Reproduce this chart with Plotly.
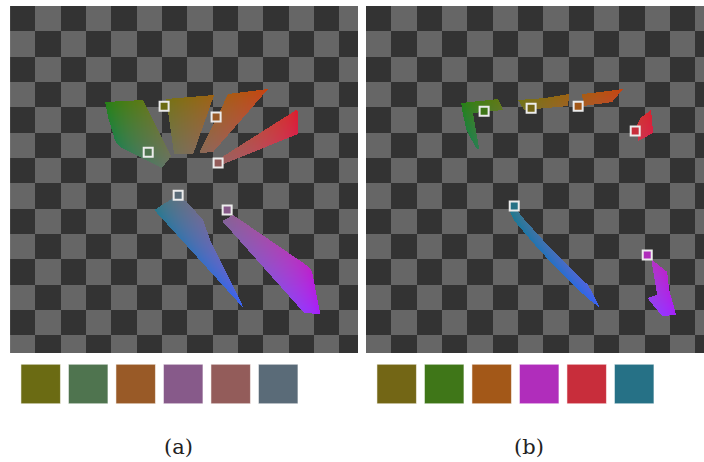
import numpy as np
import plotly.graph_objects as go

# Chroma plane (a*, b*) shown in each panel, and the fixed lightness used to colour regions
PLANE_A = (-103.5, 104.5)
PLANE_B = (-104.0, 103.5)
CHECK_CELL = 15.14
LIGHTNESS = 47.0
PX_PER_UNIT = 348 / (PLANE_A[1] - PLANE_A[0])
CHECK_DARK = (51, 51, 51)
CHECK_LIGHT = (102, 102, 102)

# ---------------- panel (a) ----------------
palette_a = ["#6b6b13", "#4f744f", "#995a27", "#875a8a", "#935c5a", "#5a6b78"]
points_a_x = [-11.4, -20.9, 19.7, 26.3, 20.9, -3.0]
points_a_y = [43.6, 16.1, 37.1, -18.5, 9.6, -9.6]

region_a_green = [(-46.6, 46.0), (-23.9, 47.2), (-7.2, 13.7), (-12.6, 6.6),
                  (-37.7, 19.1), (-40.6, 22.7), (-44.8, 36.5)]
region_a_olive = [(-10.2, 47.8), (18.5, 50.2), (6.0, 14.9), (-5.4, 14.9)]
region_a_orange = [(26.9, 50.8), (50.8, 53.8), (17.9, 16.1), (9.6, 15.5)]
region_a_red = [(22.7, 8.4), (23.3, 13.2), (67.5, 41.2), (68.7, 40.0), (68.7, 26.9)]
region_a_blue = [(-4.2, -10.2), (-17.3, -18.5), (36.5, -77.7), (16.1, -36.5),
                 (12.0, -24.5), (1.8, -13.2)]
region_a_purple = [(23.3, -25.1), (29.9, -21.5), (75.3, -52.6), (77.1, -55.6),
                   (81.9, -80.7), (72.3, -80.1)]
regions_a = [region_a_green, region_a_olive, region_a_orange,
             region_a_red, region_a_blue, region_a_purple]

# ---------------- panel (b) ----------------
palette_b = ["#736615", "#3f7618", "#a35818", "#b02dbb", "#c82d3b", "#267186"]
points_b_x = [-4.8, -32.9, 23.3, 64.6, 57.4, -14.9]
points_b_y = [42.4, 40.6, 43.6, -45.4, 28.7, -16.1]

region_b_green = [(-46.6, 45.4), (-24.5, 47.8), (-21.5, 41.2), (-29.3, 40.6),
                  (-39.5, 39.4), (-35.9, 17.9), (-37.7, 18.5), (-43.6, 29.3),
                  (-46.0, 41.2)]
region_b_olive = [(-12.6, 47.2), (3.6, 48.4), (10.2, 49.6), (17.9, 50.8),
                  (17.3, 43.6), (3.6, 42.4), (-9.0, 41.2)]
region_b_orange = [(25.7, 50.8), (36.5, 52.0), (50.2, 53.8), (43.6, 46.0), (26.3, 43.6)]
region_b_red = [(60.4, 36.5), (66.9, 41.2), (68.1, 27.5), (59.2, 22.7), (58.6, 32.3)]
region_b_blue = [(-16.7, -18.5), (-13.7, -17.9), (-9.6, -23.3), (6.0, -40.6),
                 (19.7, -54.4), (29.3, -63.4), (36.5, -77.1), (31.7, -73.5),
                 (22.1, -65.2), (12.6, -55.6), (0.6, -43.0), (-14.3, -25.7),
                 (-17.3, -20.3)]
region_b_magenta = [(67.5, -48.4), (76.5, -55.6), (77.7, -66.3), (81.9, -81.3),
                    (73.5, -81.9), (64.6, -71.1), (70.5, -69.3), (67.5, -51.4)]
regions_b = [region_b_green, region_b_olive, region_b_orange,
             region_b_red, region_b_blue, region_b_magenta]

captions = ["(a)", "(b)"]


def lab_to_srgb(L, a, b):
    fy = (L + 16.0) / 116.0
    fx = fy + a / 500.0
    fz = fy - b / 200.0

    def finv(t):
        return np.where(t > 6 / 29, t ** 3, 3 * (6 / 29) ** 2 * (t - 4 / 29))

    X = 0.95047 * finv(fx)
    Y = finv(fy)
    Z = 1.08883 * finv(fz)
    r = 3.2406 * X - 1.5372 * Y - 0.4986 * Z
    g = -0.9689 * X + 1.8758 * Y + 0.0415 * Z
    bl = 0.0557 * X - 0.2040 * Y + 1.0570 * Z

    def gamma(c):
        c = np.clip(c, 0.0, 1.0)
        return np.where(c <= 0.0031308, 12.92 * c, 1.055 * c ** (1 / 2.4) - 0.055)

    return np.stack([gamma(r), gamma(g), gamma(bl)], axis=-1)


def inside(px, py, poly):
    mask = np.zeros(px.shape, dtype=bool)
    n = len(poly)
    for k in range(n):
        x1, y1 = poly[k]
        x2, y2 = poly[(k + 1) % n]
        if y1 == y2:
            continue
        crosses = (y1 > py) != (y2 > py)
        xint = (x2 - x1) * (py - y1) / (y2 - y1) + x1
        mask ^= crosses & (px < xint)
    return mask


def region_image(regions):
    """Pixels of the chroma plane inside the regions, coloured by their (a*, b*) position."""
    step = 1.0 / PX_PER_UNIT
    w = int(round((PLANE_A[1] - PLANE_A[0]) / step))
    h = int(round((PLANE_B[1] - PLANE_B[0]) / step))
    ac = PLANE_A[0] + (np.arange(w) + 0.5) * step
    bc = PLANE_B[0] + (np.arange(h) + 0.5) * step
    A, B = np.meshgrid(ac, bc)
    mask = np.zeros(A.shape, dtype=bool)
    for poly in regions:
        mask |= inside(A, B, poly)
    rgb = lab_to_srgb(LIGHTNESS, A, B)
    img = np.zeros((h, w, 4), dtype=np.uint8)
    img[..., :3] = np.round(rgb * 255).astype(np.uint8)
    img[..., 3] = np.where(mask, 255, 0)
    return go.Image(z=img.tolist(), colormodel="rgba",
                    zmin=[0, 0, 0, 0], zmax=[255, 255, 255, 255],
                    x0=ac[0], dx=step, y0=bc[0], dy=step, hoverinfo="skip")


def checkerboard():
    """Transparency checkerboard, one image pixel per cell, anchored at the top-left corner."""
    ncol = int(np.ceil((PLANE_A[1] - PLANE_A[0]) / CHECK_CELL))
    nrow = int(np.ceil((PLANE_B[1] - PLANE_B[0]) / CHECK_CELL))
    rows = []
    for j in range(nrow):              # j counts from the bottom row upward
        r_top = nrow - 1 - j
        rows.append([list(CHECK_DARK if (r_top + c) % 2 == 0 else CHECK_LIGHT)
                     for c in range(ncol)])
    bottom = PLANE_B[1] - nrow * CHECK_CELL
    return go.Image(z=rows, colormodel="rgb",
                    x0=PLANE_A[0] + CHECK_CELL / 2, dx=CHECK_CELL,
                    y0=bottom + CHECK_CELL / 2, dy=CHECK_CELL, hoverinfo="skip")


fig = go.Figure()

panels = [
    (regions_a, points_a_x, points_a_y, palette_a, "x", "y", "x3", "y3"),
    (regions_b, points_b_x, points_b_y, palette_b, "x2", "y2", "x4", "y4"),
]
for regions, px_, py_, pal, xa, ya, xs, ys in panels:
    for tr in (checkerboard(), region_image(regions)):
        tr.update(xaxis=xa, yaxis=ya)
        fig.add_trace(tr)
    fig.add_trace(go.Scatter(
        x=px_, y=py_, mode="markers", xaxis=xa, yaxis=ya, hoverinfo="skip",
        marker=dict(symbol="square", size=9, color=pal,
                    line=dict(color="#ececec", width=2))))
    fig.add_trace(go.Scatter(
        x=list(range(len(pal))), y=[0] * len(pal), mode="markers",
        xaxis=xs, yaxis=ys, hoverinfo="skip",
        marker=dict(symbol="square", size=39.5, color=pal,
                    line=dict(color="rgba(255,255,255,0.55)", width=1))))

W, H = 704, 462
plane_top, plane_bottom = 6, 353
ydom = [(H - plane_bottom) / H, (H - plane_top) / H]
xdom_a = [10 / W, 358 / W]
xdom_b = [366 / W, 1.0]
range_b_right = PLANE_A[0] + (W - 366) / PX_PER_UNIT

hidden = dict(visible=False, showgrid=False, zeroline=False, fixedrange=True)
sw_dom = [(H - 384 - 20) / H, (H - 384 + 20) / H]
sw_left = -30.7 / 47.5

fig.update_layout(
    width=W, height=H, margin=dict(l=0, r=0, t=0, b=0),
    paper_bgcolor="white", plot_bgcolor="rgba(0,0,0,0)", showlegend=False,
    xaxis=dict(domain=xdom_a, range=list(PLANE_A), scaleanchor=False, **hidden),
    yaxis=dict(domain=ydom, range=list(PLANE_B), **hidden),
    xaxis2=dict(domain=xdom_b, range=[PLANE_A[0], range_b_right], scaleanchor=False, **hidden),
    yaxis2=dict(domain=ydom, range=list(PLANE_B), **hidden),
    xaxis3=dict(domain=xdom_a, range=[sw_left, sw_left + 348 / 47.5], **hidden),
    yaxis3=dict(domain=sw_dom, range=[-0.5, 0.5], **hidden),
    xaxis4=dict(domain=xdom_b, range=[sw_left, sw_left + (W - 366) / 47.5], **hidden),
    yaxis4=dict(domain=sw_dom, range=[-0.5, 0.5], **hidden),
)

for cap, cx in zip(captions, [178, 529]):
    fig.add_annotation(text=cap, xref="paper", yref="paper", x=cx / W, y=(H - 447) / H,
                       xanchor="center", yanchor="middle", showarrow=False,
                       font=dict(family="DejaVu Serif", size=21, color="#222222"))

fig.write_html("out.html")
